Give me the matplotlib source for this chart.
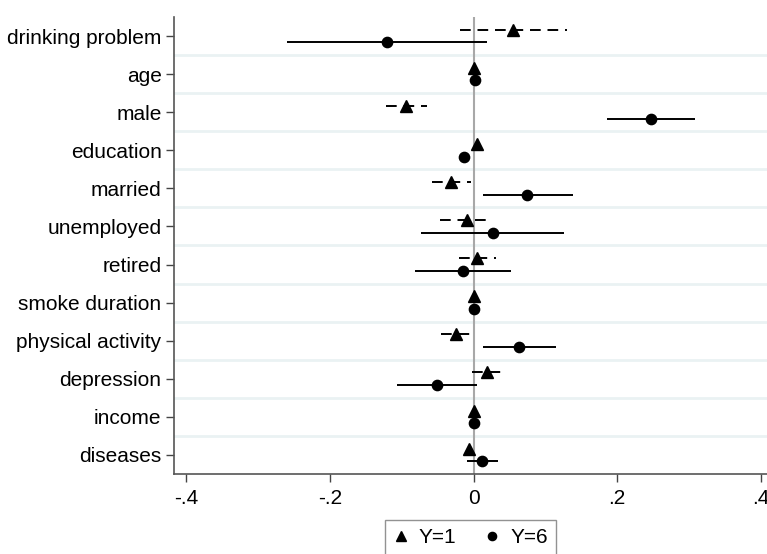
import numpy as np
import matplotlib.pyplot as plt

plt.rcParams['font.family'] = ['Liberation Sans', 'DejaVu Sans']

# variables, de arriba hacia abajo
variables = ["drinking problem", "age", "male", "education", "married",
             "unemployed", "retired", "smoke duration", "physical activity",
             "depression", "income", "diseases"]

# Y=1 (triangulos, IC discontinuo)
b1 = [0.0555, 0.0, -0.094, 0.0053, -0.032, -0.0095, 0.0053, 0.0, -0.0244, 0.0193, 0.0, -0.006]
lo1 = [-0.0188, 0.0, -0.122, 0.0053, -0.058, -0.0467, -0.0206, 0.0, -0.045, -0.002, 0.0, -0.006]
hi1 = [0.130, 0.0, -0.065, 0.0053, -0.004, 0.0193, 0.032, 0.0, -0.005, 0.0388, 0.0, -0.006]

# Y=6 (circulos, IC continuo)
b6 = [-0.121, 0.0017, 0.247, -0.013, 0.075, 0.0267, -0.015, 0.001, 0.064, -0.0504, 0.0, 0.0118]
lo6 = [-0.2595, 0.0017, 0.1856, -0.013, 0.0128, -0.073, -0.082, 0.001, 0.0128, -0.106, 0.0, -0.0095]
hi6 = [0.0184, 0.0017, 0.309, -0.013, 0.139, 0.1266, 0.0527, 0.001, 0.115, 0.0044, 0.0, 0.034]

xticks = [-0.4, -0.2, 0, 0.2, 0.4]
xlabels = ["-.4", "-.2", "0", ".2", ".4"]

n = len(variables)
y = np.arange(n)
off = 0.166
fs = 15

fig = plt.figure(figsize=(7.67, 5.54), dpi=100)
ax = fig.add_axes([174 / 767, 1 - 474 / 554, 1 - 174 / 767, (474 - 17) / 554])

# lineas de separacion
for k in range(n - 1):
    ax.axhline(k + 0.5, color="#eaf2f3", lw=2.0, zorder=0)
ax.axvline(0, color="#a8a8a8", lw=1.5, zorder=1)

ax.hlines(y - off, lo1, hi1, colors="black", lw=1.4, linestyles=(0, (5.5, 3.5)), zorder=2)
ax.hlines(y + off, lo6, hi6, colors="black", lw=1.4, zorder=2)
ax.plot(b1, y - off, "^", color="black", ms=8.5, ls="none", label="Y=1", zorder=3)
ax.plot(b6, y + off, "o", color="black", ms=7.4, ls="none", label="Y=6", zorder=3)

ax.set_ylim(n - 0.5, -0.5)
ax.set_xlim(-0.4174, 0.409)
ax.set_yticks(y)
ax.set_yticklabels(variables, fontsize=fs)
ax.set_xticks(xticks)
ax.set_xticklabels(xlabels, fontsize=fs)
ax.tick_params(length=6, width=1, color="#444444")
ax.tick_params(axis="y", pad=3)
ax.tick_params(axis="x", pad=5)

for s in ["top", "right"]:
    ax.spines[s].set_visible(False)
for s in ["left", "bottom"]:
    ax.spines[s].set_color("#555555")
    ax.spines[s].set_linewidth(1.2)

leg = ax.legend(loc="upper center", bbox_to_anchor=(0.5, -0.1007), ncol=2,
                fontsize=fs, frameon=True, fancybox=False, edgecolor="#777777",
                handlelength=0.7, handletextpad=0.5, columnspacing=1.4,
                borderpad=0.4, borderaxespad=0, markerscale=0.8)
leg.get_frame().set_linewidth(1.0)

fig.savefig("out.png", dpi=100)
